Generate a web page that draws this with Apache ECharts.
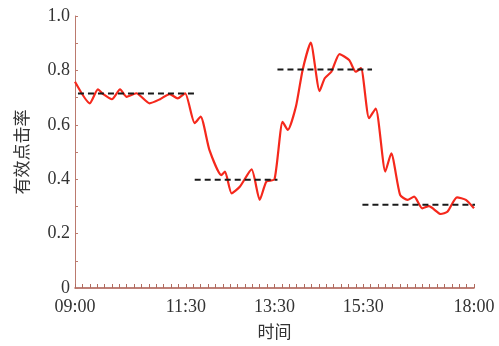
<!DOCTYPE html>
<html>
<head>
<meta charset="utf-8">
<script src="https://cdn.jsdelivr.net/npm/echarts@6/dist/echarts.min.js"></script>
<style>html,body{margin:0;padding:0;background:#fff}#c{width:499px;height:346px}</style>
</head>
<body>
<div id="c"></div>
<script>
// minutes after 09:00
var timeMinutes = [0, 20, 31, 38, 50, 61, 70, 83, 101, 115, 128, 139, 149, 162, 170, 182, 198, 203, 212, 223, 239, 250, 259, 270, 281, 288, 299, 308, 319, 331, 338, 347, 358, 371, 380, 387, 398, 407, 420, 428, 440, 450, 459, 470, 479, 495, 504, 517, 529, 540];
var clickRate   = [0.758, 0.679, 0.730, 0.713, 0.694, 0.730, 0.703, 0.716, 0.679, 0.694, 0.713, 0.697, 0.716, 0.606, 0.630, 0.507, 0.415, 0.428, 0.348, 0.372, 0.436, 0.324, 0.391, 0.400, 0.611, 0.581, 0.667, 0.801, 0.902, 0.724, 0.771, 0.795, 0.860, 0.838, 0.795, 0.808, 0.624, 0.660, 0.428, 0.495, 0.342, 0.324, 0.336, 0.293, 0.301, 0.272, 0.280, 0.333, 0.324, 0.293];
// reference (mean) levels: start minute, end minute, value
var levelStart = [4, 162, 274, 389];
var levelEnd   = [162, 274, 402, 542];
var levelValue = [0.715, 0.398, 0.803, 0.306];
var xTickValues = [0, 150, 270, 390, 540];
var xTickLabels = ['09:00', '11:30', '13:30', '15:30', '18:00'];
var xName = '时间';
var yName = '有效点击率';

var lineData = timeMinutes.map(function (t, i) { return [t, clickRate[i]]; });
var minorX = [];
for (var m = 0; m <= 540; m += 10) minorX.push(m);

var series = [{
  type: 'line', data: lineData, smooth: 0.2, symbol: 'none',
  lineStyle: { color: '#f5281c', width: 2.2 }, z: 3
}];
levelValue.forEach(function (v, i) {
  series.push({
    type: 'line', data: [[levelStart[i], v], [levelEnd[i], v]], symbol: 'none', clip: false,
    lineStyle: { color: '#1a1a1a', width: 2, type: [6, 4] }, z: 4
  });
});

var serif = '"Liberation Serif", "Times New Roman", serif';
var axisCol = '#a9574b';
var chart = echarts.init(document.getElementById('c'), null, { renderer: 'canvas' });
chart.setOption({
  animation: false,
  grid: { left: 75, right: 25, top: 16, bottom: 58, containLabel: false },
  xAxis: {
    type: 'value', min: 0, max: 540,
    name: xName, nameLocation: 'middle', nameGap: 35,
    nameTextStyle: { fontFamily: '"Noto Sans CJK SC", sans-serif', fontSize: 17, color: '#333' },
    axisLine: { show: true, lineStyle: { color: axisCol, width: 1.5 } },
    axisTick: { show: true, inside: true, length: 4, customValues: minorX, lineStyle: { color: '#b06a5e', width: 1 } },
    axisLabel: {
      customValues: xTickValues, margin: 10, color: '#333', fontFamily: serif, fontSize: 18,
      formatter: function (v) { var k = xTickValues.indexOf(v); return k >= 0 ? xTickLabels[k] : ''; }
    },
    splitLine: { show: false }
  },
  yAxis: {
    type: 'value', min: 0, max: 1, interval: 0.2,
    name: yName, nameLocation: 'middle', nameGap: 45, nameRotate: 90,
    nameTextStyle: { fontFamily: '"Noto Sans CJK SC", sans-serif', fontSize: 17, color: '#333' },
    axisLine: { show: true, lineStyle: { color: '#bb7a6e', width: 1 } },
    axisTick: { show: true, inside: true, length: 3, lineStyle: { color: '#bb7a6e' } },
    minorTick: { show: true, splitNumber: 2, length: 3, lineStyle: { color: '#bb7a6e' } },
    axisLabel: {
      margin: 5, color: '#333', fontFamily: serif, fontSize: 18,
      formatter: function (v) { return v === 0 ? '0' : v.toFixed(1); }
    },
    splitLine: { show: false }
  },
  series: series
});
</script>
</body>
</html>
